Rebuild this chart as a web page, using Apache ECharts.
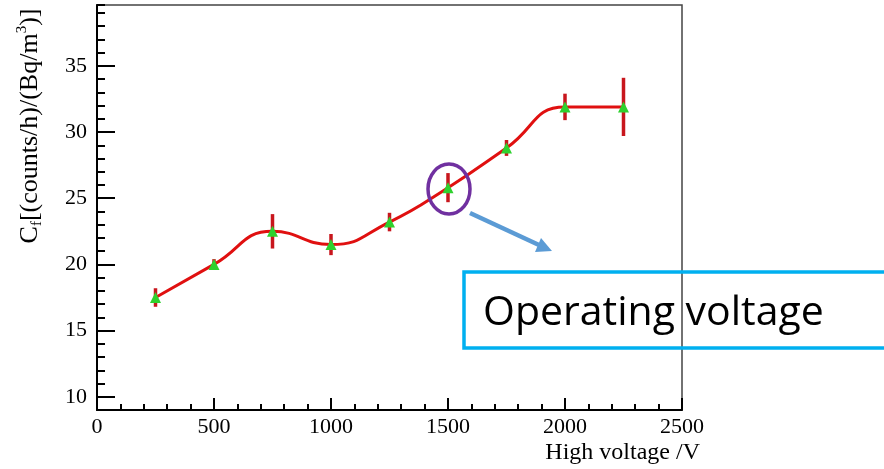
<!DOCTYPE html>
<html>
<head>
<meta charset="utf-8">
<script src="https://cdn.jsdelivr.net/npm/echarts@6/dist/echarts.min.js"></script>
<style>
html, body { margin: 0; padding: 0; background: #fff; }
#chart { width: 884px; height: 469px; }
</style>
</head>
<body>
<div id="chart"></div>
<script>
// data
var voltages = [250, 500, 750, 1000, 1250, 1500, 1750, 2000, 2250];
var cfValues = [17.5, 20.0, 22.5, 21.5, 23.2, 25.8, 28.8, 31.9, 31.9];
var cfErrors = [0.7, 0.4, 1.3, 0.8, 0.7, 1.1, 0.6, 1.0, 2.2];
var yTicks = [10, 15, 20, 25, 30, 35];

function drawChart() {
    var dom = document.getElementById('chart');
    var myChart = echarts.init(dom, null, { renderer: 'canvas' });
    var serif = 'Liberation Serif';

    var lineData = voltages.map(function (v, i) { return [v, cfValues[i]]; });
    var errData = voltages.map(function (v, i) {
        return [v, cfValues[i] - cfErrors[i], cfValues[i] + cfErrors[i]];
    });

    var option = {
        backgroundColor: '#fff',
        animation: false,
        grid: {
            left: 97, right: 202, top: 5, bottom: 59,
            show: true,
            borderColor: '#444',
            borderWidth: 1.5
        },
        xAxis: {
            type: 'value',
            min: 0,
            max: 2500,
            interval: 500,
            name: 'High voltage /V',
            nameLocation: 'end',
            nameGap: 18,
            nameTextStyle: {
                fontFamily: serif, fontSize: 24, color: '#000',
                align: 'right', verticalAlign: 'top', padding: [31, 0, 0, 0]
            },
            axisLine: { lineStyle: { color: '#000', width: 2 } },
            axisTick: { inside: true, length: 12, lineStyle: { color: '#000', width: 2 } },
            minorTick: { show: true, splitNumber: 5, length: 6, lineStyle: { color: '#000', width: 2 } },
            axisLabel: {
                fontFamily: serif, fontSize: 22, color: '#000', margin: 6,
                formatter: function (v) { return String(v); }
            },
            splitLine: { show: false }
        },
        yAxis: [
            {
                // minor ticks every 1
                type: 'value',
                position: 'left',
                min: 9,
                max: 39.6,
                interval: 1,
                axisLine: { show: false },
                axisTick: { inside: true, length: 8, lineStyle: { color: '#000', width: 2 } },
                axisLabel: { show: false },
                splitLine: { show: false }
            },
            {
                type: 'value',
                position: 'left',
                min: 9,
                max: 39.6,
                interval: 1,
                axisLine: { show: true, onZero: false, lineStyle: { color: '#000', width: 2 } },
                axisTick: { inside: true, length: 18, customValues: yTicks, lineStyle: { color: '#000', width: 2 } },
                axisLabel: { customValues: yTicks, fontFamily: serif, fontSize: 22, color: '#000', margin: 10 },
                splitLine: { show: false }
            }
        ],
        series: [
            {
                type: 'custom',
                yAxisIndex: 1,
                z: 2,
                data: errData,
                renderItem: function (params, api) {
                    var p1 = api.coord([api.value(0), api.value(1)]);
                    var p2 = api.coord([api.value(0), api.value(2)]);
                    return {
                        type: 'line',
                        shape: { x1: p1[0], y1: p1[1], x2: p2[0], y2: p2[1] },
                        style: { stroke: '#c8161d', lineWidth: 3.5 }
                    };
                }
            },
            {
                type: 'line',
                yAxisIndex: 1,
                z: 3,
                smooth: 0.5,
                data: lineData,
                symbol: 'triangle',
                symbolSize: 11,
                showAllSymbol: true,
                lineStyle: { color: '#e01010', width: 3 },
                itemStyle: { color: '#2ed12e' }
            }
        ],
        graphic: [
            {
                type: 'text',
                x: 30,
                y: 126,
                rotation: Math.PI / 2,
                style: {
                    text: '{n|C}{sub|f}{n|[(counts/h)/(Bq/m}{sup|3}{n|)]}',
                    align: 'center',
                    verticalAlign: 'middle',
                    rich: {
                        n: { fontFamily: serif, fontSize: 26, color: '#000', lineHeight: 34, verticalAlign: 'middle' },
                        sub: { fontFamily: serif, fontSize: 15, color: '#000', lineHeight: 34, verticalAlign: 'bottom', padding: [0, 0, 2, 0] },
                        sup: { fontFamily: serif, fontSize: 15, color: '#000', lineHeight: 34, verticalAlign: 'top', padding: [2, 0, 0, 0] }
                    }
                }
            },
            {
                type: 'ellipse',
                shape: { cx: 449, cy: 189, rx: 21, ry: 25 },
                style: { fill: null, stroke: '#7030a0', lineWidth: 3.5 },
                z: 10
            },
            {
                type: 'line',
                shape: { x1: 470, y1: 213, x2: 539, y2: 245 },
                style: { stroke: '#5b9bd5', lineWidth: 4.5 },
                z: 10
            },
            {
                type: 'polygon',
                shape: { points: [[552, 251], [535, 252], [541, 238]] },
                style: { fill: '#5b9bd5' },
                z: 10
            },
            {
                type: 'rect',
                shape: { x: 464, y: 272, width: 440, height: 76 },
                style: { fill: null, stroke: '#00b0f0', lineWidth: 3.5 },
                z: 10
            },
            {
                type: 'text',
                x: 483,
                y: 313,
                style: {
                    text: 'Operating voltage',
                    fontFamily: 'Open Sans',
                    fontSize: 41,
                    fill: '#000',
                    verticalAlign: 'middle'
                },
                z: 10
            }
        ]
    };

    myChart.setOption(option);
    window.addEventListener('resize', myChart.resize);
}

drawChart();
</script>
</body>
</html>
